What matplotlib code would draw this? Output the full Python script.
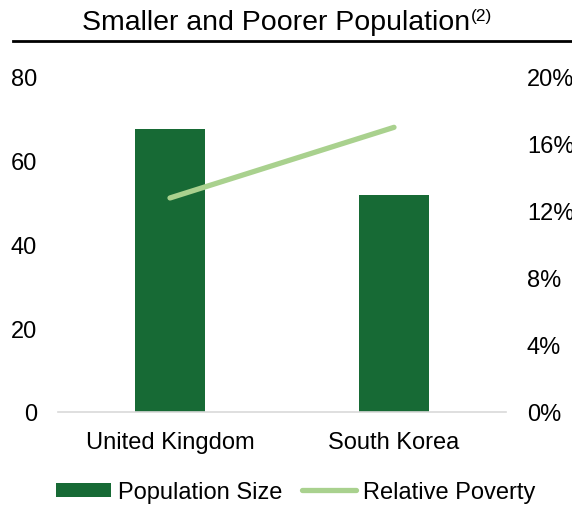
import matplotlib
matplotlib.use("Agg")
import matplotlib.pyplot as plt
from matplotlib.lines import Line2D
from matplotlib.patches import Patch
from matplotlib.ticker import FuncFormatter

plt.rcParams['font.family'] = ['Liberation Sans', 'DejaVu Sans']

categories = ["United Kingdom", "South Korea"]
population = [67.5, 51.8]          # millions
poverty = [0.1276, 0.1697]         # relative poverty rate
left_ticks = [0, 20, 40, 60, 80]
right_ticks = [0, 0.04, 0.08, 0.12, 0.16, 0.20]

bar_color = "#176A35"
line_color = "#A9D18E"

W, H = 572, 506
fig = plt.figure(figsize=(W / 100, H / 100), dpi=100)
ax = fig.add_axes([58 / W, 1 - 413 / H, (506 - 58) / W, (413 - 77.5) / H])
x = list(range(len(categories)))
ax.bar(x, population, width=0.31, color=bar_color, zorder=2)
ax.set_xlim(-0.5, 1.5)
ax.set_ylim(0, 80)
ax.set_yticks(left_ticks)
ax.set_xticks(x)
ax.set_xticklabels(categories)
for s in ["top", "right", "left"]:
    ax.spines[s].set_visible(False)
ax.spines["bottom"].set_color("#D9D9D9")
ax.spines["bottom"].set_linewidth(1.2)
ax.tick_params(axis="both", length=0, labelsize=17, colors="#000000")
ax.tick_params(axis="y", pad=15)
ax.tick_params(axis="x", pad=14)

ax2 = ax.twinx()
ax2.plot(x, poverty, color=line_color, linewidth=3.8, solid_capstyle="round", zorder=3)
ax2.set_ylim(0, 0.20)
ax2.set_yticks(right_ticks)
ax2.yaxis.set_major_formatter(FuncFormatter(lambda v, p: f"{v*100:.0f}%"))
for s in ["top", "right", "left", "bottom"]:
    ax2.spines[s].set_visible(False)
ax2.tick_params(axis="y", length=0, labelsize=17, pad=15)

title = fig.text(82 / W, 1 - 30.5 / H, "Smaller and Poorer Population", ha="left",
                 va="baseline", fontsize=20.5)
fig.canvas.draw()
bb = title.get_window_extent()
fig.text((bb.x1 + 1) / W, 1 - 21 / H, "(2)", ha="left", va="baseline", fontsize=12.5)
fig.add_artist(Line2D([13 / W, 1.0], [1 - 42 / H, 1 - 42 / H], color="black", linewidth=2,
                      transform=fig.transFigure))

handles = [Patch(facecolor=bar_color, edgecolor="none"),
           Line2D([0], [0], color=line_color, linewidth=3.8, solid_capstyle="round")]
fig.legend(handles, ["Population Size", "Relative Poverty"], loc="center",
           bbox_to_anchor=(296 / W, 1 - 493 / H), ncol=2, frameon=False, fontsize=17,
           handlelength=2.3, handletextpad=0.3, columnspacing=0.85, handleheight=0.55,
           borderpad=0, borderaxespad=0)

fig.savefig("out.png", dpi=100)
